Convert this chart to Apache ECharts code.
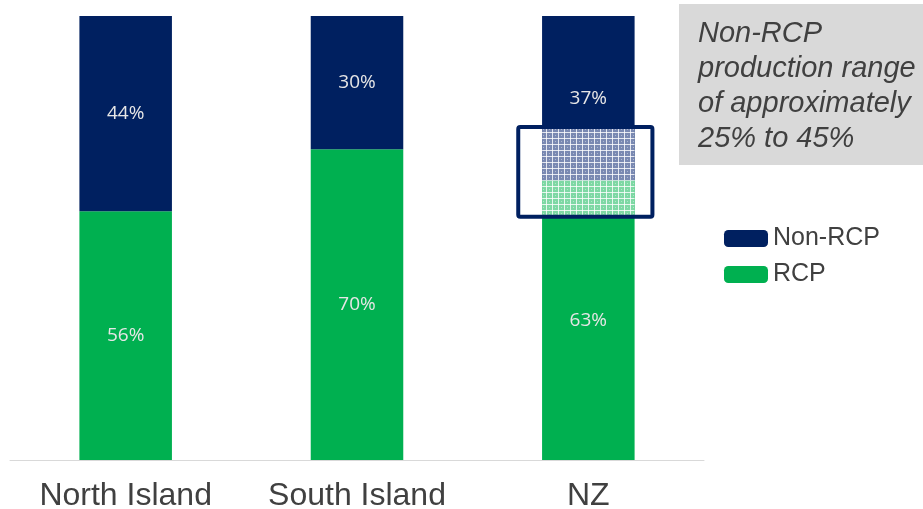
<!DOCTYPE html>
<html><head><meta charset="utf-8">
<script src="https://cdn.jsdelivr.net/npm/echarts@6/dist/echarts.min.js"></script>
<style>html,body{margin:0;padding:0;background:#fff}#c{width:923px;height:509px}</style>
</head><body><div id="c"></div>
<script>
const categories = ['North Island', 'South Island', 'NZ'];
const rcp = [56, 70, 63];
const nonRcp = [44, 30, 37];
// Non-RCP production range of approx 25%..45% on NZ -> RCP share 55..75
const rangeCategory = 2;
const rangeLow = 55;   // 100 - 45
const rangeHigh = 75;  // 100 - 25

const NAVY = '#002060', GREEN = '#00B050';

function makePattern(base) {
  const c = document.createElement('canvas');
  c.width = 6; c.height = 6;
  const g = c.getContext('2d');
  g.fillStyle = base; g.fillRect(0, 0, 6, 6);
  g.fillStyle = 'rgba(255,255,255,0.8)';
  g.fillRect(0, 0, 6, 1);
  g.fillRect(0, 0, 1, 6);
  g.fillStyle = 'rgba(255,255,255,0.4)';
  g.fillRect(3, 3, 1, 1);
  return c;
}
const navyPat = makePattern('#7a89b2');
const greenPat = makePattern('#7ed8a4');

const chart = echarts.init(document.getElementById('c'), null, {renderer: 'canvas'});
const lbl = {show: true, position: 'inside', color: '#e6e6e6', fontSize: 19, fontFamily: 'Open Sans', formatter: p => p.value + '%'};

chart.setOption({
  animation: false,
  grid: {left: 10, right: 219, top: 16, bottom: 49, containLabel: false, outerBoundsMode: 'none'},
  xAxis: {
    type: 'category', data: categories,
    axisLine: {lineStyle: {color: '#d9d9d9', width: 1}},
    axisTick: {show: false},
    axisLabel: {color: '#404040', fontSize: 32, fontFamily: 'Liberation Sans', margin: 20}
  },
  yAxis: {type: 'value', min: 0, max: 100, show: false, splitLine: {show: false}},
  legend: {
    orient: 'vertical', left: 719, top: 221, itemWidth: 44, itemHeight: 17, itemGap: 11,
    textStyle: {color: '#404040', fontSize: 25, fontFamily: 'Liberation Sans'},
    data: [{name: 'Non-RCP', icon: 'roundRect'}, {name: 'RCP', icon: 'roundRect'}]
  },
  series: [
    {name: 'RCP', type: 'bar', stack: 't', barWidth: '40%', data: rcp, itemStyle: {color: GREEN}, label: lbl},
    {name: 'Non-RCP', type: 'bar', stack: 't', barWidth: '40%', data: nonRcp, itemStyle: {color: NAVY}, label: lbl},
    {
      name: 'range', type: 'custom', z: 10, silent: true,
      data: [[rangeCategory, rangeLow, rangeHigh, rcp[rangeCategory]]],
      renderItem: function (params, api) {
        const cat = api.value(0), lo = api.value(1), hi = api.value(2), split = api.value(3);
        const band = api.size([1, 0])[0];
        const barW = band * 0.4, boxW = band * 0.58;
        const pLo = api.coord([cat, lo]), pHi = api.coord([cat, hi]), pS = api.coord([cat, split]);
        const cx = pLo[0] - 3;
        const bx = pLo[0];
        return {
          type: 'group', children: [
            {type: 'rect', shape: {x: bx - barW / 2, y: pS[1], width: barW, height: pLo[1] - pS[1]},
             style: {fill: {image: greenPat, repeat: 'repeat'}}},
            {type: 'rect', shape: {x: bx - barW / 2, y: pHi[1], width: barW, height: pS[1] - pHi[1]},
             style: {fill: {image: navyPat, repeat: 'repeat'}}},
            {type: 'rect', shape: {x: cx - boxW / 2, y: pHi[1], width: boxW, height: pLo[1] - pHi[1] + 1, r: 2},
             style: {fill: 'none', stroke: NAVY, lineWidth: 4}}
          ]
        };
      }
    }
  ],
  graphic: [
    {type: 'rect', left: 679, top: 4, shape: {width: 244, height: 161}, style: {fill: '#d9d9d9'}, z: 0},
    {type: 'text', left: 698, top: 16, z: 1,
     style: {text: 'Non-RCP\nproduction range\nof approximately\n25% to 45%', fill: '#404040',
             font: 'italic 29px "Liberation Sans"', lineHeight: 35}}
  ]
});
</script></body></html>
